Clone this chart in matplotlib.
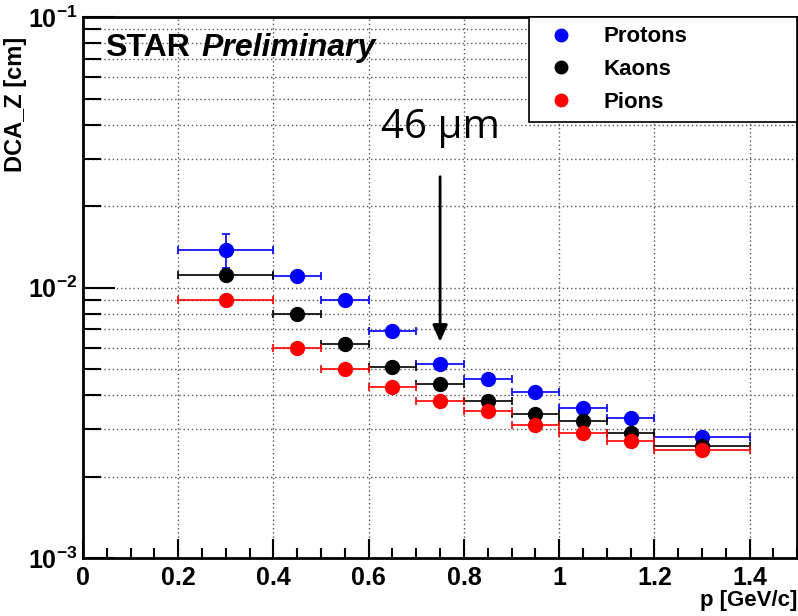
import matplotlib.pyplot as plt
from matplotlib.ticker import FixedLocator, FixedFormatter, LogLocator, NullFormatter, MultipleLocator

plt.rcParams['font.family'] = ['Liberation Sans', 'DejaVu Sans']
plt.rcParams['mathtext.fontset'] = 'custom'
plt.rcParams['mathtext.rm'] = 'Liberation Sans:bold'
plt.rcParams['mathtext.bf'] = 'Liberation Sans:bold'

# momentum bins (centre and half width)
p_centers = [0.3, 0.45, 0.55, 0.65, 0.75, 0.85, 0.95, 1.05, 1.15, 1.3]
p_halfwidth = [0.1, 0.05, 0.05, 0.05, 0.05, 0.05, 0.05, 0.05, 0.05, 0.1]

# DCA_Z resolution [cm]
protons = [0.0138, 0.0110, 0.0090, 0.0069, 0.0052, 0.0046, 0.0041, 0.0036, 0.0033, 0.0028]
protons_err = [0.0020, 0.0002, 0.0001, 0.0001, 0.0001, 0.0001, 0.0001, 0.0001, 0.0001, 0.0001]
kaons = [0.0111, 0.0080, 0.0062, 0.0051, 0.0044, 0.0038, 0.0034, 0.0032, 0.0029, 0.0026]
kaons_err = [0.0005, 0.0002, 0.0001, 0.0001, 0.0001, 0.0001, 0.0001, 0.0001, 0.0001, 0.0001]
pions = [0.0090, 0.0060, 0.0050, 0.0043, 0.0038, 0.0035, 0.0031, 0.0029, 0.0027, 0.0025]
pions_err = [0.0002, 0.0001, 0.0001, 0.0001, 0.0001, 0.0001, 0.0001, 0.0001, 0.0001, 0.0001]

x_ticks = [0, 0.2, 0.4, 0.6, 0.8, 1.0, 1.2, 1.4]
x_ticklabels = ['0', '0.2', '0.4', '0.6', '0.8', '1', '1.2', '1.4']
y_ticks = [1e-3, 1e-2, 1e-1]
y_ticklabels = [r'$10^{-3}$', r'$10^{-2}$', r'$10^{-1}$']

series = [("Protons", protons, protons_err, "#0000ff"),
          ("Kaons", kaons, kaons_err, "black"),
          ("Pions", pions, pions_err, "#ff0000")]

fig = plt.figure(figsize=(7.98, 6.16), dpi=100)
ax = fig.add_axes([0.104, 0.0942, 0.895, 0.878])

for name, vals, errs, col in series:
    ax.errorbar(p_centers, vals, xerr=p_halfwidth, yerr=errs, fmt='o', color=col,
                ms=10, elinewidth=1.2, capsize=3, capthick=1.2, label=name)

ax.set_yscale('log')
ax.set_xlim(0, 1.5)
ax.set_ylim(1e-3, 1e-1)

ax.yaxis.set_major_locator(FixedLocator(y_ticks))
ax.yaxis.set_major_formatter(FixedFormatter(y_ticklabels))
ax.yaxis.set_minor_locator(LogLocator(base=10, subs=range(2, 10)))
ax.yaxis.set_minor_formatter(NullFormatter())
ax.xaxis.set_major_locator(FixedLocator(x_ticks))
ax.xaxis.set_major_formatter(FixedFormatter(x_ticklabels))
ax.xaxis.set_minor_locator(MultipleLocator(0.05))
for lbl in ax.get_xticklabels():
    lbl.set_fontweight('bold')

ax.tick_params(axis='both', which='major', direction='in', labelsize=18, width=1.5, color='black')
ax.tick_params(axis='y', which='major', length=23, pad=4)
ax.tick_params(axis='y', which='minor', direction='in', length=13, width=1.5)
ax.tick_params(axis='x', which='major', length=14, pad=6)
ax.tick_params(axis='x', which='minor', direction='in', length=7, width=1.5)

ax.grid(True, which='major', axis='x', color='#555555', linestyle=(0, (1, 2)), linewidth=1)
ax.grid(True, which='both', axis='y', color='#555555', linestyle=(0, (1, 2)), linewidth=1)
ax.set_axisbelow(True)

for s in ax.spines.values():
    s.set_linewidth(2)

ax.set_ylabel('DCA_Z [cm]', fontsize=17, fontweight='bold')
ax.yaxis.set_label_coords(-0.078, 0.839)
ax.set_xlabel('p [GeV/c]', fontsize=16, fontweight='bold')
ax.xaxis.set_label_coords(1.0, -0.06)
ax.xaxis.label.set_horizontalalignment('right')

ax.text(0.031, 0.943, 'STAR', transform=ax.transAxes, fontsize=23, fontweight='bold',
        va='center', ha='left')
ax.text(0.166, 0.943, 'Preliminary', transform=ax.transAxes, fontsize=23,
        fontweight='bold', fontstyle='italic', va='center', ha='left')

ax.text(0.75, 0.039, '46 µm', fontsize=29, family=['Open Sans', 'DejaVu Sans'],
        ha='center', va='center')
ax.annotate('', xy=(0.75, 0.0063), xytext=(0.75, 0.0257),
            arrowprops=dict(arrowstyle='-|>,head_width=0.45,head_length=1.0',
                            color='black', lw=2, shrinkA=0, shrinkB=0))

leg_handles = [plt.Line2D([], [], marker='o', ls='', color=c, ms=9) for _, _, _, c in series]
leg = ax.legend(leg_handles, [s[0] for s in series], loc='upper left',
                bbox_to_anchor=(0.625, 0.812, 0.375, 0.188), mode='expand',
                borderaxespad=0, fancybox=False, edgecolor='black', framealpha=1,
                prop={'weight': 'bold', 'size': 16}, handletextpad=0.9,
                labelspacing=0.52, borderpad=0.42, handlelength=2.0)
leg.get_frame().set_linewidth(1.2)

fig.savefig('out.png', dpi=100)
